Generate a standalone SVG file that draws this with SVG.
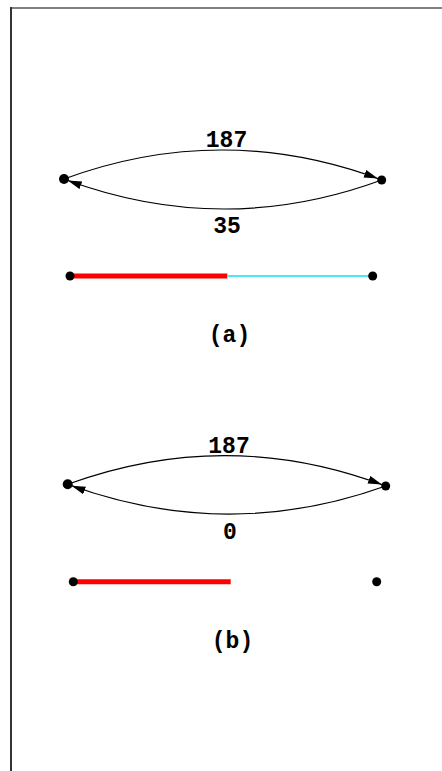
<svg xmlns="http://www.w3.org/2000/svg" width="442" height="771" viewBox="0 0 442 771">
<style>
.lbl{font-family:"Liberation Mono","Courier New",monospace;font-weight:bold;font-size:23px;fill:#000;text-anchor:middle}
.arc{fill:none;stroke:#000;stroke-width:1.2}
.dot{fill:#000}
.red{stroke:#ff0000;stroke-width:5}
.cyan{stroke:#4de8f2;stroke-width:2}
</style>
<defs>
<marker id="ah" markerUnits="userSpaceOnUse" markerWidth="20" markerHeight="10" refX="18" refY="4" orient="auto">
<path d="M0,0 L14,4 L0,8 Z" fill="#000"/>
</marker>
</defs>
<rect width="442" height="771" fill="#fff"/>
<g id="frame">
<line x1="11" y1="8" x2="442" y2="8" stroke="#808080" stroke-width="2"/>
<line x1="11" y1="7" x2="11" y2="771" stroke="#333" stroke-width="2"/>
</g>
<g id="connectors">
<path class="arc" d="M64,179 Q223,120.5 381.7,180" marker-end="url(#ah)"/>
<path class="arc" d="M381.7,180 Q223,238.5 64,179" marker-end="url(#ah)"/>
<path class="arc" d="M67.7,484.3 Q226.7,426 385.7,486" marker-end="url(#ah)"/>
<path class="arc" d="M385.7,486 Q226.7,543 67.7,484.3" marker-end="url(#ah)"/>
<line class="red" x1="70" y1="276" x2="227.3" y2="276"/>
<line class="cyan" x1="227.3" y1="276" x2="372.7" y2="276"/>
<line class="red" x1="73.3" y1="581.7" x2="230.7" y2="581.7"/>
</g>
<g id="a-left"><circle class="dot" cx="64" cy="179" r="5"/></g>
<g id="a-right"><circle class="dot" cx="381.7" cy="180" r="4.5"/></g>
<g id="a-bl"><circle class="dot" cx="70" cy="276" r="4.5"/></g>
<g id="a-br"><circle class="dot" cx="372.7" cy="276" r="4.5"/></g>
<g id="b-left"><circle class="dot" cx="67.7" cy="484.3" r="5"/></g>
<g id="b-right"><circle class="dot" cx="385.7" cy="486" r="4.5"/></g>
<g id="b-bl"><circle class="dot" cx="73.3" cy="581.7" r="4.5"/></g>
<g id="b-br"><circle class="dot" cx="376.7" cy="581.7" r="4.5"/></g>
<g id="labels">
<text class="lbl" x="226.5" y="147">187</text>
<text class="lbl" x="227" y="233">35</text>
<text class="lbl" x="229.5" y="341.5">(a)</text>
<text class="lbl" x="229" y="452.5">187</text>
<text class="lbl" x="230" y="539">0</text>
<text class="lbl" x="232.5" y="648">(b)</text>
</g>
</svg>
